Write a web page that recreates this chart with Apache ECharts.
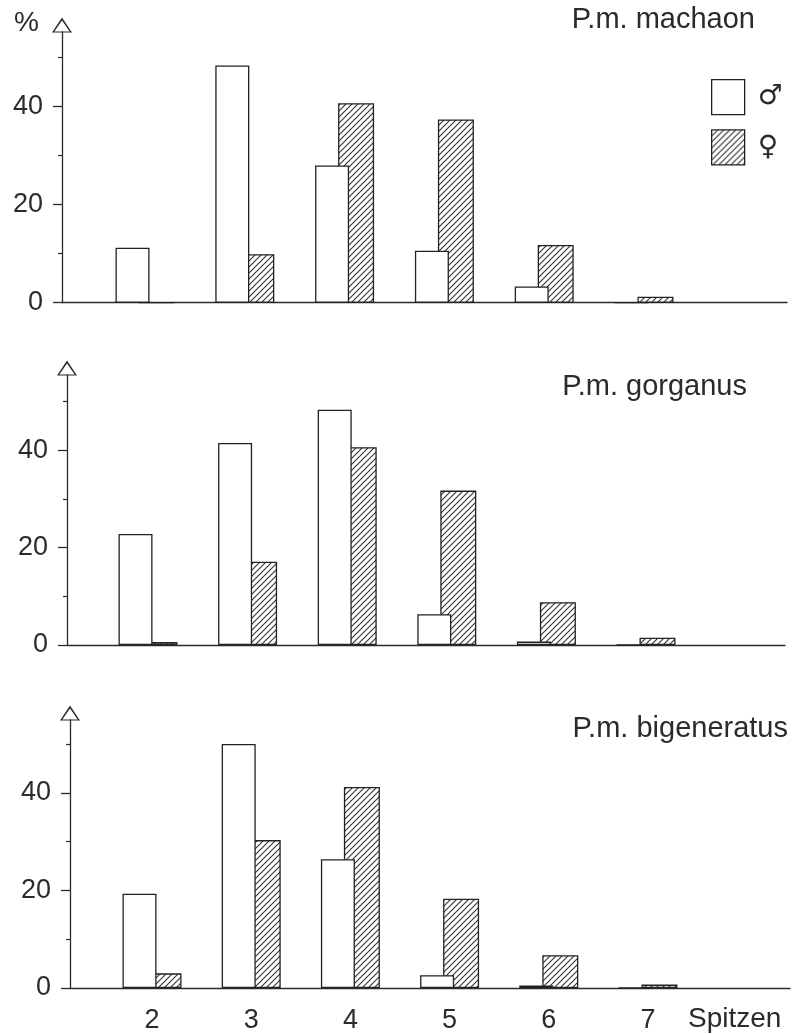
<!DOCTYPE html>
<html><head><meta charset="utf-8">
<script src="https://cdn.jsdelivr.net/npm/echarts@6/dist/echarts.min.js"></script>
<style>html,body{margin:0;padding:0;background:#fff}#c{width:798px;height:1034px}</style>
</head><body><div id="c"></div>
<script>
// ---- data ----
const spitzen = [2, 3, 4, 5, 6, 7];
const yTickLabels = [0, 20, 40];
const yMinorTicks = [10, 30, 50];
const panelNames = ['P.m. machaon', 'P.m. gorganus', 'P.m. bigeneratus'];
const machaonMale = [11.2, 48.4, 28.0, 10.6, 3.3, 0];
const machaonFemale = [0, 9.9, 40.7, 37.4, 11.8, 1.2];
const gorganusMale = [22.8, 41.5, 48.3, 6.3, 0.7, 0];
const gorganusFemale = [0.6, 17.1, 40.6, 31.7, 8.8, 1.5];
const bigeneratusMale = [19.3, 50.0, 26.4, 2.6, 0.5, 0];
const bigeneratusFemale = [3.0, 30.3, 41.2, 18.3, 6.7, 0.7];
const maleName = '\u2642';
const femaleName = '\u2640';

const maleSets = [machaonMale, gorganusMale, bigeneratusMale];
const femaleSets = [machaonFemale, gorganusFemale, bigeneratusFemale];

// ---- layout (pixel geometry of each panel) ----
const layout = [
  {axisX: 62, rightX: 787, topY: 32,  zeroY: 302.7, cx2: 145, step: 99.8, unit: 4.9,  tRight: 43, tTop: 5},
  {axisX: 67, rightX: 785, topY: 375, zeroY: 645,   cx2: 148, step: 99.6, unit: 4.87, tRight: 51, tTop: 372},
  {axisX: 70, rightX: 790, topY: 720, zeroY: 988.5, cx2: 152, step: 99.2, unit: 4.89, tRight: 10, tTop: 714}
];

const INK = '#2b2b2b';
const FONT = 'Liberation Sans, Arial, sans-serif';

function makeHatch() {
  const s = 6;
  const c = document.createElement('canvas');
  c.width = s; c.height = s;
  const g = c.getContext('2d');
  g.fillStyle = '#fff'; g.fillRect(0, 0, s, s);
  g.strokeStyle = '#333'; g.lineWidth = 1.1;
  g.beginPath();
  g.moveTo(-1, s + 1); g.lineTo(s + 1, -1);
  g.moveTo(-1, 1); g.lineTo(1, -1);
  g.moveTo(s - 1, s + 1); g.lineTo(s + 1, s - 1);
  g.stroke();
  return c;
}
const hatch = {image: makeHatch(), repeat: 'repeat'};

const arrowPath = 'path://M0,0L10,15L-10,15Z M0,2.9L-7.7,13.9L7.7,13.9Z';

const grids = [], xAxes = [], yAxes = [], series = [], titles = [];
layout.forEach((p, i) => {
  grids.push({left: p.axisX, right: 798 - p.rightX, top: p.topY, bottom: 1034 - p.zeroY, containLabel: false});
  xAxes.push({
    type: 'value', gridIndex: i,
    min: 2 - (p.cx2 - p.axisX) / p.step,
    max: 2 + (p.rightX - p.cx2) / p.step,
    axisLine: {show: true, onZero: false, lineStyle: {color: INK, width: 1.3}},
    axisTick: {show: false},
    splitLine: {show: false},
    axisLabel: i === 2 ? {show: true, customValues: spitzen, fontSize: 27, margin: 19, color: INK, fontFamily: FONT} : {show: false}
  });
  const ymax = (p.zeroY - p.topY) / p.unit;
  yAxes.push({
    type: 'value', gridIndex: i, position: 'left', min: 0, max: ymax,
    axisLine: {show: true, onZero: false, symbol: ['none', arrowPath], symbolSize: [20, 15], symbolOffset: [0, 7],
      lineStyle: {color: INK, width: 1.3}},
    axisTick: {show: true, length: 4, customValues: yMinorTicks, lineStyle: {color: INK, width: 1.2}},
    axisLabel: {show: false},
    splitLine: {show: false}
  });
  yAxes.push({
    type: 'value', gridIndex: i, position: 'left', min: 0, max: ymax,
    axisLine: {show: false, onZero: false},
    axisTick: {show: true, length: 9, customValues: yTickLabels, lineStyle: {color: INK, width: 1.3}},
    axisLabel: {show: true, customValues: yTickLabels, fontSize: 27, margin: 19, color: INK, fontFamily: FONT},
    splitLine: {show: false}
  });
  series.push({
    type: 'bar', name: maleName, xAxisIndex: i, yAxisIndex: i * 2,
    data: spitzen.map((s, j) => [s, maleSets[i][j]]),
    barWidth: 34, barGap: '-32.4%', z: 3, silent: true,
    itemStyle: {color: '#ffffff', borderColor: '#222', borderWidth: 1.3}
  });
  series.push({
    type: 'bar', name: femaleName, xAxisIndex: i, yAxisIndex: i * 2,
    data: spitzen.map((s, j) => [s, femaleSets[i][j]]),
    barWidth: 36, barGap: '-32.4%', z: 2, silent: true,
    itemStyle: {color: hatch, borderColor: '#222', borderWidth: 1.3}
  });
  titles.push({text: panelNames[i], right: p.tRight, top: p.tTop, padding: 0,
    textStyle: {fontSize: 29, fontWeight: 'normal', color: INK, fontFamily: FONT}});
});
titles.push({text: '%', left: 14, top: 9, padding: 0, textStyle: {fontSize: 28, fontWeight: 'normal', color: INK, fontFamily: FONT}});
titles.push({text: 'Spitzen', left: 688, top: 1005, padding: 0, textStyle: {fontSize: 28, fontWeight: 'normal', color: INK, fontFamily: FONT}});

const chart = echarts.init(document.getElementById('c'), null, {renderer: 'canvas'});
chart.setOption({
  backgroundColor: '#ffffff',
  animation: false,
  title: titles,
  legend: {
    data: [maleName, femaleName], orient: 'vertical', left: 711, top: 79, padding: 0,
    itemWidth: 33, itemHeight: 35, itemGap: 14, icon: 'rect', selectedMode: false,
    itemStyle: {borderColor: '#222', borderWidth: 1.3},
    textStyle: {fontSize: 28, color: INK, fontFamily: 'DejaVu Sans', padding: [0, 0, 0, 8]}
  },
  grid: grids,
  xAxis: xAxes,
  yAxis: yAxes,
  series: series
});
</script>
</body></html>
